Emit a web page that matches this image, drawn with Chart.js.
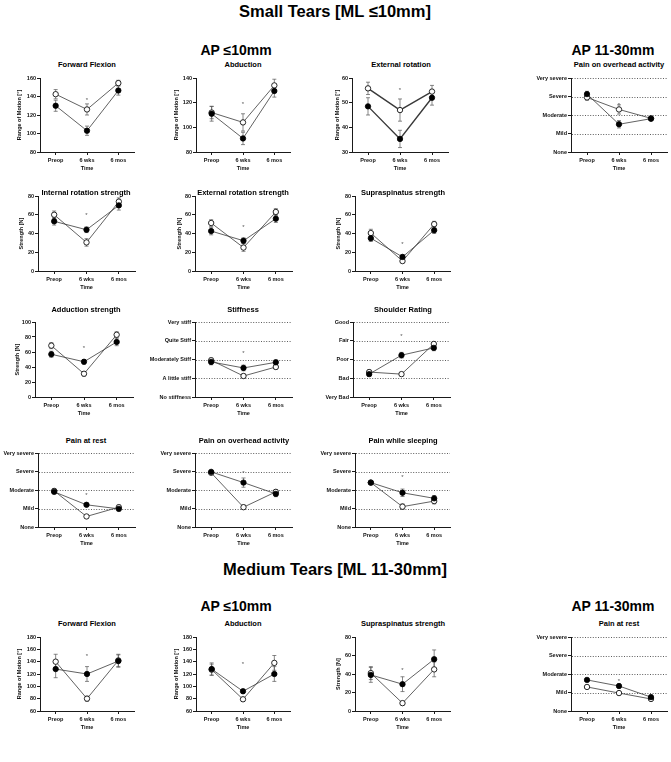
<!DOCTYPE html>
<html><head><meta charset="utf-8">
<script src="https://cdn.jsdelivr.net/npm/chart.js@4/dist/chart.umd.min.js"></script>
<style>
html,body{margin:0;padding:0;background:#fff;}
body{width:671px;height:762px;position:relative;overflow:hidden;font-family:"Liberation Sans",Arial,sans-serif;}
.h{position:absolute;font-weight:bold;color:#000;white-space:nowrap;transform:translate(-50%,-50%);line-height:1;}
canvas{position:absolute;}
</style></head><body>
<script>
// ---------- categories / tick labels ----------
const timepoints = ['Preop', '6 wks', '6 mos'];
const painLevels = ['None', 'Mild', 'Moderate', 'Severe', 'Very severe'];
const stiffnessLevels = ['No stiffness', 'A little stiff', 'Moderately Stiff', 'Quite Stiff', 'Very stiff'];
const ratingLevels = ['Very Bad', 'Bad', 'Poor', 'Fair', 'Good'];

// ---------- Small tears, AP <=10mm ----------
const sFlexFilled = [130, 103, 146.5], sFlexFilledErr = [6, 5, 5];
const sFlexOpen = [142.5, 126, 154.5], sFlexOpenErr = [5, 6, 3];
const sFlexStar = 138;

const sAbdFilled = [111, 91, 129.5], sAbdFilledErr = [6, 5, 5];
const sAbdOpen = [112, 104, 134], sAbdOpenErr = [5, 7, 5];
const sAbdStar = 120;

const sExtFilled = [48.5, 35.3, 52], sExtFilledErr = [3.5, 3.5, 3];
const sExtOpen = [55.8, 47, 54.5], sExtOpenErr = [2.5, 4.5, 2.5];
const sExtStar = 55.5;

const sIrsFilled = [53, 44, 70], sIrsFilledErr = [4, 3, 5];
const sIrsOpen = [60, 30.5, 74], sIrsOpenErr = [4, 4, 4];
const sIrsStar = 61;

const sErsFilled = [42.6, 32.3, 55.8], sErsFilledErr = [4, 3, 4];
const sErsOpen = [51.2, 25, 63], sErsOpenErr = [3.5, 4, 3.5];
const sErsStar = 48.7;

const sSupFilled = [35, 15, 43.5], sSupFilledErr = [3.5, 2.5, 3.5];
const sSupOpen = [40.5, 10.6, 50], sSupOpenErr = [4, 2, 3];
const sSupStar = 30;

const sAddFilled = [57, 47, 73.4], sAddFilledErr = [4, 3, 5];
const sAddOpen = [68.5, 31, 83], sAddOpenErr = [4, 3, 4];
const sAddStar = 67;

const sStiffFilled = [1.87, 1.55, 1.85], sStiffFilledErr = [0.15, 0.15, 0.12];
const sStiffOpen = [1.96, 1.12, 1.6], sStiffOpenErr = [0.12, 0.12, 0.12];
const sStiffStar = 2.4;

const sRateFilled = [1.22, 2.23, 2.62], sRateFilledErr = [0.1, 0.15, 0.15];
const sRateOpen = [1.33, 1.22, 2.83], sRateOpenErr = [0.12, 0.1, 0.1];
const sRateStar = 3.33;

const sRestFilled = [1.9, 1.2, 0.98], sRestFilledErr = [0.1, 0.08, 0.12];
const sRestOpen = [1.95, 0.57, 1.07], sRestOpenErr = [0.12, 0.05, 0.12];
const sRestStar = 1.77;

const sOverFilled = [2.98, 2.4, 1.79], sOverFilledErr = [0.05, 0.25, 0.15];
const sOverOpen = [2.93, 1.07, 1.9], sOverOpenErr = [0.07, 0.12, 0.12];
const sOverStar = 2.98;

const sSleepFilled = [2.4, 1.85, 1.55], sSleepFilledErr = [0.05, 0.2, 0.15];
const sSleepOpen = [2.4, 1.1, 1.4], sSleepOpenErr = [0.05, 0.15, 0.15];
const sSleepStar = 2.75;

// ---------- Small tears, AP 11-30mm ----------
const sOver2Filled = [3.13, 1.5, 1.8], sOver2FilledErr = [0.15, 0.2, 0.1];
const sOver2Open = [2.95, 2.3, 1.82], sOver2OpenErr = [0.15, 0.25, 0.1];
const sOver2Star = 2.6;

// ---------- Medium tears, AP <=10mm ----------
const mFlexFilled = [128, 120, 141], mFlexFilledErr = [14, 12, 10];
const mFlexOpen = [140, 80, 142], mFlexOpenErr = [12, 4, 10];
const mFlexStar = 151;

const mAbdFilled = [128, 92, 120], mAbdFilledErr = [10, 3, 12];
const mAbdOpen = [127, 79, 138], mAbdOpenErr = [9, 3, 12];
const mAbdStar = 138;

const mSupFilled = [39, 29, 56], mSupFilledErr = [8, 8, 10];
const mSupOpen = [41, 8.5, 45], mSupOpenErr = [7, 2, 8];
const mSupStar = 46;

// ---------- Medium tears, AP 11-30mm ----------
const mRestFilled = [1.68, 1.35, 0.75], mRestFilledErr = [0.08, 0.1, 0.1];
const mRestOpen = [1.3, 0.97, 0.65], mRestOpenErr = [0.06, 0.06, 0.08];
const mRestStar = 1.7;

// ---------- layout (positions only) ----------
const panels = [
  {title:'Forward Flexion', yTitle:'Range of Motion [°]', min:80, max:160, step:20, ax:40, pt:78, pw:94, ph:74, yx:19, tx:87, ty:65, f:sFlexFilled, fe:sFlexFilledErr, o:sFlexOpen, oe:sFlexOpenErr, star:sFlexStar},
  {title:'Abduction', yTitle:'Range of Motion [°]', min:80, max:140, step:20, ax:196, pt:78, pw:94, ph:74, yx:176, tx:243, ty:65, f:sAbdFilled, fe:sAbdFilledErr, o:sAbdOpen, oe:sAbdOpenErr, star:sAbdStar},
  {title:'External rotation', yTitle:'Range of Motion [°]', min:30, max:60, step:10, ax:352, pt:78, pw:96, ph:74, yx:337, tx:401, ty:65, f:sExtFilled, fe:sExtFilledErr, o:sExtOpen, oe:sExtOpenErr, star:sExtStar, lw:1.4},
  {title:'Pain on overhead activity', levels:painLevels, ax:571, pt:78, pw:96, ph:74, tx:619, ty:65, f:sOver2Filled, fe:sOver2FilledErr, o:sOver2Open, oe:sOver2OpenErr, star:sOver2Star},

  {title:'Internal rotation strength', yTitle:'Strength [N]', min:0, max:80, step:20, ax:38, pt:196, pw:97, ph:75, yx:21, tx:86, ty:193, f:sIrsFilled, fe:sIrsFilledErr, o:sIrsOpen, oe:sIrsOpenErr, star:sIrsStar},
  {title:'External rotation strength', yTitle:'Strength [N]', min:0, max:80, step:20, ax:195, pt:196, pw:97, ph:75, yx:179, tx:243, ty:193, f:sErsFilled, fe:sErsFilledErr, o:sErsOpen, oe:sErsOpenErr, star:sErsStar},
  {title:'Supraspinatus strength', yTitle:'Strength [N]', min:0, max:80, step:20, ax:355, pt:196, pw:95, ph:75, yx:338, tx:403, ty:193, f:sSupFilled, fe:sSupFilledErr, o:sSupOpen, oe:sSupOpenErr, star:sSupStar},

  {title:'Adduction strength', yTitle:'Strength [N]', min:0, max:100, step:20, ax:35, pt:322, pw:98, ph:75, yx:17, tx:86, ty:310, f:sAddFilled, fe:sAddFilledErr, o:sAddOpen, oe:sAddOpenErr, star:sAddStar},
  {title:'Stiffness', levels:stiffnessLevels, ax:195, pt:322, pw:97, ph:75, tx:243, ty:310, f:sStiffFilled, fe:sStiffFilledErr, o:sStiffOpen, oe:sStiffOpenErr, star:sStiffStar},
  {title:'Shoulder Rating', levels:ratingLevels, ax:353, pt:322, pw:97, ph:75, tx:403, ty:310, f:sRateFilled, fe:sRateFilledErr, o:sRateOpen, oe:sRateOpenErr, star:sRateStar},

  {title:'Pain at rest', levels:painLevels, ax:38, pt:453, pw:97, ph:74, tx:86, ty:441, f:sRestFilled, fe:sRestFilledErr, o:sRestOpen, oe:sRestOpenErr, star:sRestStar},
  {title:'Pain on overhead activity', levels:painLevels, ax:195, pt:453, pw:97, ph:74, tx:244, ty:441, f:sOverFilled, fe:sOverFilledErr, o:sOverOpen, oe:sOverOpenErr, star:sOverStar},
  {title:'Pain while sleeping', levels:painLevels, ax:355, pt:453, pw:95, ph:74, tx:403, ty:441, f:sSleepFilled, fe:sSleepFilledErr, o:sSleepOpen, oe:sSleepOpenErr, star:sSleepStar},

  {title:'Forward Flexion', yTitle:'Range of Motion [°]', min:60, max:180, step:20, ax:40, pt:637, pw:94, ph:74, yx:19, tx:87, ty:624, f:mFlexFilled, fe:mFlexFilledErr, o:mFlexOpen, oe:mFlexOpenErr, star:mFlexStar},
  {title:'Abduction', yTitle:'Range of Motion [°]', min:60, max:180, step:20, ax:196, pt:637, pw:94, ph:74, yx:176, tx:243, ty:624, f:mAbdFilled, fe:mAbdFilledErr, o:mAbdOpen, oe:mAbdOpenErr, star:mAbdStar},
  {title:'Supraspinatus strength', yTitle:'Strength [N]', min:0, max:80, step:20, ax:355, pt:637, pw:95, ph:74, yx:338, tx:403, ty:624, f:mSupFilled, fe:mSupFilledErr, o:mSupOpen, oe:mSupOpenErr, star:mSupStar},
  {title:'Pain at rest', levels:painLevels, ax:571, pt:637, pw:96, ph:74, tx:619, ty:624, f:mRestFilled, fe:mRestFilledErr, o:mRestOpen, oe:mRestOpenErr, star:mRestStar}
];

const headings = [
  {text:'Small Tears [ML ≤10mm]', x:335, y:11, size:16.5},
  {text:'AP ≤10mm', x:236, y:50, size:14},
  {text:'AP 11-30mm', x:613, y:50, size:14},
  {text:'Medium Tears [ML 11-30mm]', x:335, y:569, size:16.5},
  {text:'AP ≤10mm', x:236, y:606, size:14},
  {text:'AP 11-30mm', x:613, y:606, size:14}
];

const FONTFAM = "'Liberation Sans', Arial, sans-serif";
const AX = '#1a1a1a';
const tickFont = {family: FONTFAM, size: 5.5, weight: 'bold'};

function addText(text, x, y, size) {
  const d = document.createElement('div');
  d.className = 'h';
  d.style.left = x + 'px';
  d.style.top = y + 'px';
  d.style.fontSize = size + 'px';
  d.textContent = text;
  document.body.appendChild(d);
}

const errPlugin = {
  id: 'errbars',
  beforeDatasetsDraw(chart, args, opts) {
    const ctx = chart.ctx, y = chart.scales.y, ca = chart.chartArea;
    ctx.save();
    if (opts.dotted) {
      ctx.setLineDash([1, 1.6]);
      ctx.strokeStyle = '#333';
      ctx.lineWidth = 0.8;
      for (let v = 1; v <= 4; v++) {
        const yy = Math.round(y.getPixelForValue(v)) + 0.5;
        ctx.beginPath(); ctx.moveTo(ca.left + 1, yy); ctx.lineTo(ca.right, yy); ctx.stroke();
      }
      ctx.setLineDash([]);
    }
    chart.data.datasets.forEach((ds, di) => {
      const meta = chart.getDatasetMeta(di);
      ds.err.forEach((e, i) => {
        const p = meta.data[i];
        const v = ds.data[i];
        const y1 = y.getPixelForValue(v + e), y2 = y.getPixelForValue(v - e);
        ctx.strokeStyle = '#555';
        ctx.lineWidth = 0.7;
        ctx.beginPath();
        ctx.moveTo(p.x, y1); ctx.lineTo(p.x, y2);
        ctx.moveTo(p.x - 2, y1); ctx.lineTo(p.x + 2, y1);
        ctx.moveTo(p.x - 2, y2); ctx.lineTo(p.x + 2, y2);
        ctx.stroke();
      });
    });
    ctx.restore();
  },
  afterDatasetsDraw(chart, args, opts) {
    if (opts.star == null) return;
    const ctx = chart.ctx;
    const x = chart.scales.x.getPixelForValue(1);
    const yy = chart.scales.y.getPixelForValue(opts.star);
    ctx.save();
    ctx.fillStyle = '#555';
    ctx.font = '6px ' + FONTFAM;
    ctx.textAlign = 'center';
    ctx.textBaseline = 'middle';
    ctx.fillText('*', x, yy + 1.5);
    ctx.restore();
  }
};

headings.forEach(h => addText(h.text, h.x, h.y, h.size));

panels.forEach(p => {
  const TP = 5, RP = 5, XH = 22;
  const cat = !!p.levels;
  const YW = cat ? 62 : Math.round(p.ax - (p.yx - 4.3));
  const c = document.createElement('canvas');
  const W = YW + p.pw + RP, H = TP + p.ph + XH;
  c.width = W; c.height = H;
  c.style.left = (p.ax - YW) + 'px';
  c.style.top = (p.pt - TP) + 'px';
  c.style.width = W + 'px'; c.style.height = H + 'px';
  document.body.appendChild(c);
  addText(p.title, p.tx, p.ty, 7.5);

  const lw = p.lw || 0.8;
  new Chart(c, {
    type: 'line',
    data: {
      labels: timepoints,
      datasets: [
        {data: p.f, err: p.fe, borderColor: '#3a3a3a', borderWidth: lw, pointRadius: 2.7,
         pointBackgroundColor: '#000', pointBorderColor: '#000', pointBorderWidth: 0.8, tension: 0},
        {data: p.o, err: p.oe, borderColor: '#3a3a3a', borderWidth: lw, pointRadius: 2.7,
         pointBackgroundColor: '#fff', pointBorderColor: '#111', pointBorderWidth: 0.9, tension: 0}
      ]
    },
    options: {
      responsive: false, animation: false, devicePixelRatio: 1,
      layout: {padding: {top: TP, right: RP, left: 0, bottom: 0}},
      plugins: {legend: {display: false}, tooltip: {enabled: false},
        errbars: {dotted: cat, star: p.star}},
      scales: {
        x: {
          type: 'category', offset: true,
          grid: {display: true, drawOnChartArea: false, drawTicks: true, tickLength: 3, color: AX, tickWidth: 1},
          border: {display: true, color: AX, width: 1},
          ticks: {font: tickFont, color: '#111', padding: 2, maxRotation: 0, autoSkip: false},
          title: {display: true, text: 'Time', font: tickFont, color: '#111', padding: {top: 0, bottom: 2.7}},
          afterFit(s) { s.height = XH; }
        },
        y: {
          min: cat ? 0 : p.min, max: cat ? 4 : p.max,
          grid: {display: true, drawOnChartArea: false, drawTicks: true, tickLength: 3, color: AX, tickWidth: 1},
          border: {display: true, color: AX, width: 1},
          ticks: {font: tickFont, color: '#111', padding: 1, autoSkip: false, stepSize: cat ? 1 : p.step,
            callback: cat ? (v => p.levels[v]) : (v => v)},
          title: {display: !cat, text: p.yTitle || '', font: tickFont, color: '#111', padding: {top: 1, bottom: 0}},
          afterFit(s) { s.width = YW; }
        }
      }
    },
    plugins: [errPlugin]
  });
});
</script>
</body></html>
